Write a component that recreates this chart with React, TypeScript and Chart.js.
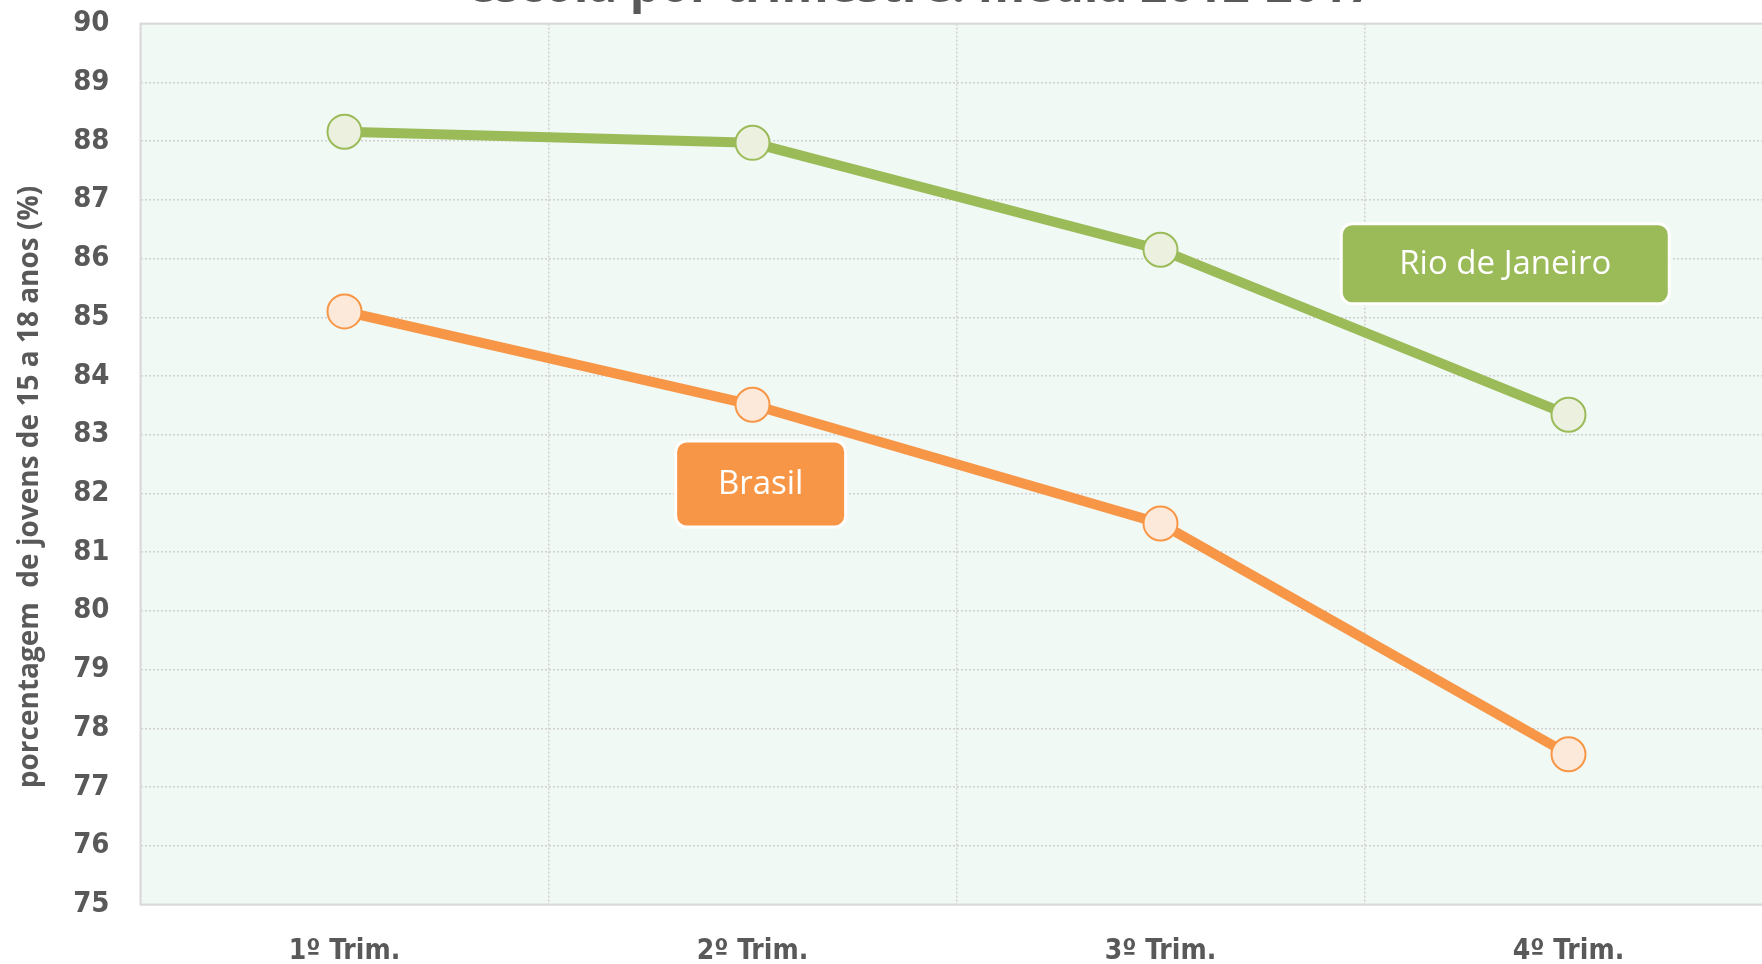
import React, { useEffect, useRef } from "react";
import { Chart, registerables } from "chart.js";

Chart.register(...registerables);

const categories = ["1º Trim.", "2º Trim.", "3º Trim.", "4º Trim."];
const rioValues = [88.16, 87.97, 86.15, 83.34];
const brasilValues = [85.1, 83.51, 81.49, 77.56];
const seriesNames = ["Rio de Janeiro", "Brasil"];
const titleText = "escola por trimestre: média 2012-2017";
const yTitleText = "porcentagem  de jovens de 15 a 18 anos (%)";
const yMin = 75;
const yMax = 90;

const GREEN = "#9BBB59";
const GREEN_FILL = "#EBF1DE";
const ORANGE = "#F79646";
const ORANGE_FILL = "#FDE9D9";
const TEXT = "#595959";
const TICK_FONT = "'DejaVu Sans Condensed', 'DejaVu Sans', sans-serif";

const decorPlugin = {
  id: "decor",
  beforeDraw(chart: any) {
    const { ctx, chartArea: a } = chart;
    ctx.save();
    ctx.fillStyle = "#F1F9F4";
    ctx.fillRect(a.left, a.top, a.right - a.left, a.bottom - a.top);
    ctx.restore();
  },
  beforeDatasetsDraw(chart: any) {
    const { ctx, chartArea: a } = chart;
    ctx.save();
    ctx.strokeStyle = "#D9D9D9";
    ctx.lineWidth = 2;
    ctx.strokeRect(a.left, a.top, a.right - a.left, a.bottom - a.top);
    ctx.restore();
  },
  afterDraw(chart: any) {
    const { ctx, scales } = chart;
    const xs = scales.x;
    const ys = scales.y;
    ctx.save();
    ctx.fillStyle = TEXT;
    ctx.font = "bold 48px 'Open Sans'";
    ctx.textAlign = "center";
    ctx.textBaseline = "alphabetic";
    ctx.fillText(titleText, 921, 2);
    ctx.save();
    ctx.translate(30, 487);
    ctx.rotate(-Math.PI / 2);
    ctx.font = "bold 28px 'Open Sans'";
    ctx.textBaseline = "middle";
    ctx.fillText(yTitleText, 0, 0);
    ctx.restore();

    const boxes = [
      { label: seriesNames[0], xv: 2.845, yv: 85.91, w: 328, h: 80, color: GREEN },
      { label: seriesNames[1], xv: 1.02, yv: 82.16, w: 170, h: 86, color: ORANGE },
    ];
    for (const b of boxes) {
      const cx = xs.getPixelForValue(b.xv);
      const cy = ys.getPixelForValue(b.yv);
      ctx.beginPath();
      (ctx as any).roundRect(cx - b.w / 2, cy - b.h / 2, b.w, b.h, 11);
      ctx.fillStyle = b.color;
      ctx.fill();
      ctx.lineWidth = 3;
      ctx.strokeStyle = "#FFFFFF";
      ctx.stroke();
      ctx.fillStyle = "#FFFFFF";
      ctx.font = "33px 'Open Sans'";
      ctx.textAlign = "center";
      ctx.textBaseline = "middle";
      ctx.fillText(b.label, cx, cy + 1);
    }
    ctx.restore();
  },
};

export default function App() {
  const ref = useRef<HTMLCanvasElement | null>(null);
  useEffect(() => {
    document.body.style.margin = "0";
    document.body.style.overflow = "hidden";
    const chart = new Chart(ref.current!, {
      type: "line",
      data: {
        labels: categories,
        datasets: [
          {
            label: seriesNames[0],
            data: rioValues,
            borderColor: GREEN,
            backgroundColor: GREEN_FILL,
            borderWidth: 10,
            pointRadius: 17,
            pointBorderWidth: 2,
            pointBorderColor: GREEN,
            pointBackgroundColor: GREEN_FILL,
            tension: 0,
            clip: false,
          },
          {
            label: seriesNames[1],
            data: brasilValues,
            borderColor: ORANGE,
            backgroundColor: ORANGE_FILL,
            borderWidth: 10,
            pointRadius: 17,
            pointBorderWidth: 2,
            pointBorderColor: ORANGE,
            pointBackgroundColor: ORANGE_FILL,
            tension: 0,
            clip: false,
          },
        ],
      },
      options: {
        animation: false,
        responsive: false,
        layout: { autoPadding: false, padding: { top: 23.6, right: 7.5, left: 0, bottom: 0 } },
        plugins: {
          legend: { display: false },
          tooltip: { enabled: false },
          title: { display: false },
        },
        scales: {
          x: {
            offset: true,
            grid: {
              offset: true,
              color: "#D0D0D0",
              lineWidth: 1.5,
              drawTicks: false,
            } as any,
            border: { display: false, dash: [2, 2] },
            ticks: {
              color: TEXT,
              padding: 30,
              font: { family: TICK_FONT, size: 28, weight: "bold" },
            },
            afterFit: (s: any) => {
              s.height = 59.4;
              s.paddingLeft = 0;
              s.paddingRight = 0;
            },
          },
          y: {
            min: yMin,
            max: yMax,
            grid: { color: "#D0D0D0", lineWidth: 1.5, drawTicks: false },
            border: { display: false, dash: [2, 2] },
            ticks: {
              stepSize: 1,
              color: TEXT,
              padding: 31,
              font: { family: TICK_FONT, size: 29, weight: "bold" },
            },
            afterFit: (s: any) => {
              s.width = 140.5;
              s.paddingTop = 0;
              s.paddingBottom = 0;
            },
          },
        },
      },
      plugins: [decorPlugin],
    });
    return () => chart.destroy();
  }, []);
  return (
    <div style={{ position: "fixed", left: 0, top: 0, width: 1762, height: 964, overflow: "hidden", background: "#fff" }}>
      <canvas ref={ref} width={1780} height={964} />
    </div>
  );
}
